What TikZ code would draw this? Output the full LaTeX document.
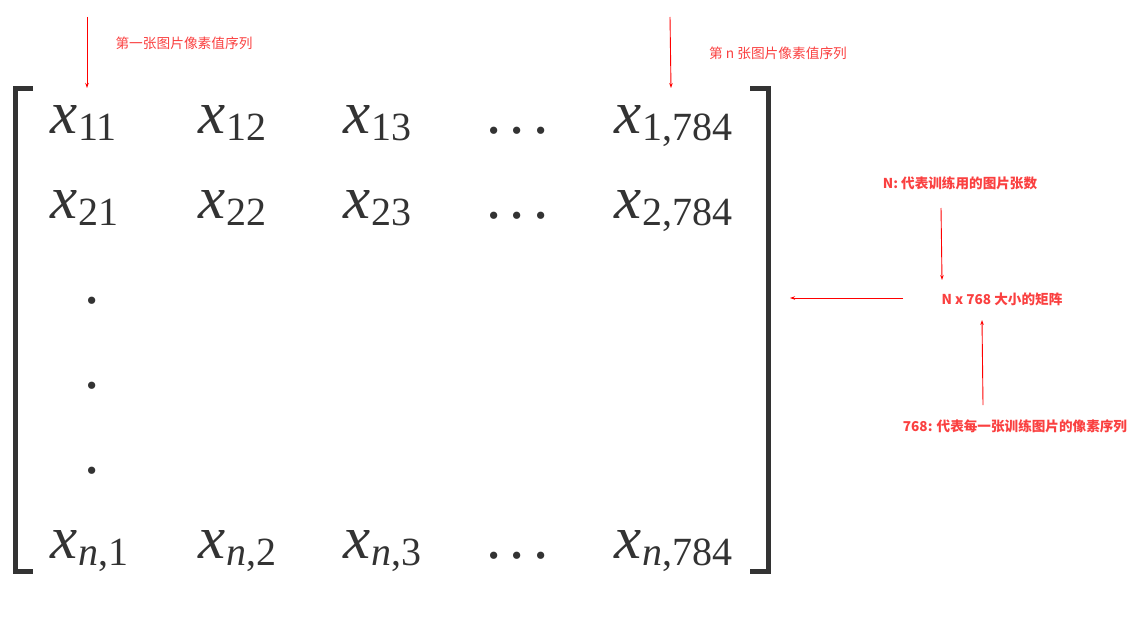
\documentclass[tikz,border=0pt]{standalone}
\usepackage{fontspec}
\newfontfamily\cjk{Noto Sans CJK SC}
\newfontfamily\matfont{Liberation Serif}
\usetikzlibrary{arrows.meta,positioning}
\definecolor{annot}{RGB}{250,64,64}
\definecolor{ink}{RGB}{51,51,51}
\newcommand{\elem}[1]{\textit{x}\kern1pt\raisebox{-7pt}{\fontsize{40}{40}\selectfont #1}}
\newcommand{\hdots}{.\hspace{8.5pt}.\hspace{8.5pt}.}

\begin{document}
\begin{tikzpicture}[x=1pt,y=-1pt,
  entry/.style={anchor=base west,inner sep=0pt,text=ink,font=\matfont\fontsize{61}{61}\selectfont},
  note/.style={text=annot,inner sep=1pt,font=\cjk\fontsize{13.7}{16}\selectfont},
  boldnote/.style={note,font=\cjk\bfseries\fontsize{13.6}{16}\selectfont},
  pointer/.style={red,line width=0.9pt,-{Stealth[length=5pt,width=3.5pt]}}]
  \useasboundingbox (0,0) rectangle (1147,623);

  % brackets
  \draw[ink,line width=5pt] (33,88.5) -| (15.5,571.5) -- (33,571.5);
  \draw[ink,line width=5pt] (750,88.5) -| (768.5,571.5) -- (750,571.5);

  % first row
  \node[entry] (x11) at (50,133) {\elem{11}};
  \node[entry] (x12) at (198,133) {\elem{12}};
  \node[entry] (x13) at (343,133) {\elem{13}};
  \node[entry] (d1) at (486,133) {\hdots};
  \node[entry] (x1m) at (614,133) {\elem{1,784}};
  % second row
  \node[entry] (x21) at (50,218) {\elem{21}};
  \node[entry] (x22) at (198,218) {\elem{22}};
  \node[entry] (x23) at (343,218) {\elem{23}};
  \node[entry] (d2) at (486,218) {\hdots};
  \node[entry] (x2m) at (614,218) {\elem{2,784}};
  % vertical dots
  \foreach \y [count=\i] in {303,388,473}
    \node[entry] (v\i) at (84,\y) {.};
  % last row
  \node[entry] (xn1) at (50,558) {\elem{\textit{n},1}};
  \node[entry] (xn2) at (198,558) {\elem{\textit{n},2}};
  \node[entry] (xn3) at (343,558) {\elem{\textit{n},3}};
  \node[entry] (dn) at (486,558) {\hdots};
  \node[entry] (xnm) at (614,558) {\elem{\textit{n},784}};

  % notes
  \node[note] (first) at (184,43) {第一张图片像素值序列};
  \node[note] (last) at (778,53) {第 n 张图片像素值序列};
  \node[boldnote] (rows) at (960,183) {N: 代表训练用的图片张数};
  \node[boldnote] (size) at (1002,299) {N x 768 大小的矩阵};
  \node[boldnote] (cols) at (1015,426) {768: 代表每一张训练图片的像素序列};

  % pointers
  \coordinate (p1) at (87,17);
  \coordinate (p2) at (670,17);
  \coordinate (p3) at (941,208);
  \coordinate (p4) at (903,298);
  \coordinate (p5) at (983,405);
  \coordinate (br) at (790,298);
  \draw[pointer] (p1) -- (87,88);
  \draw[pointer] (p2) -- (671,88);
  \draw[pointer] (p3) -- (942,280);
  \draw[pointer] (p4) -- (br);
  \draw[pointer] (p5) -- (982,320);
\end{tikzpicture}
\end{document}
